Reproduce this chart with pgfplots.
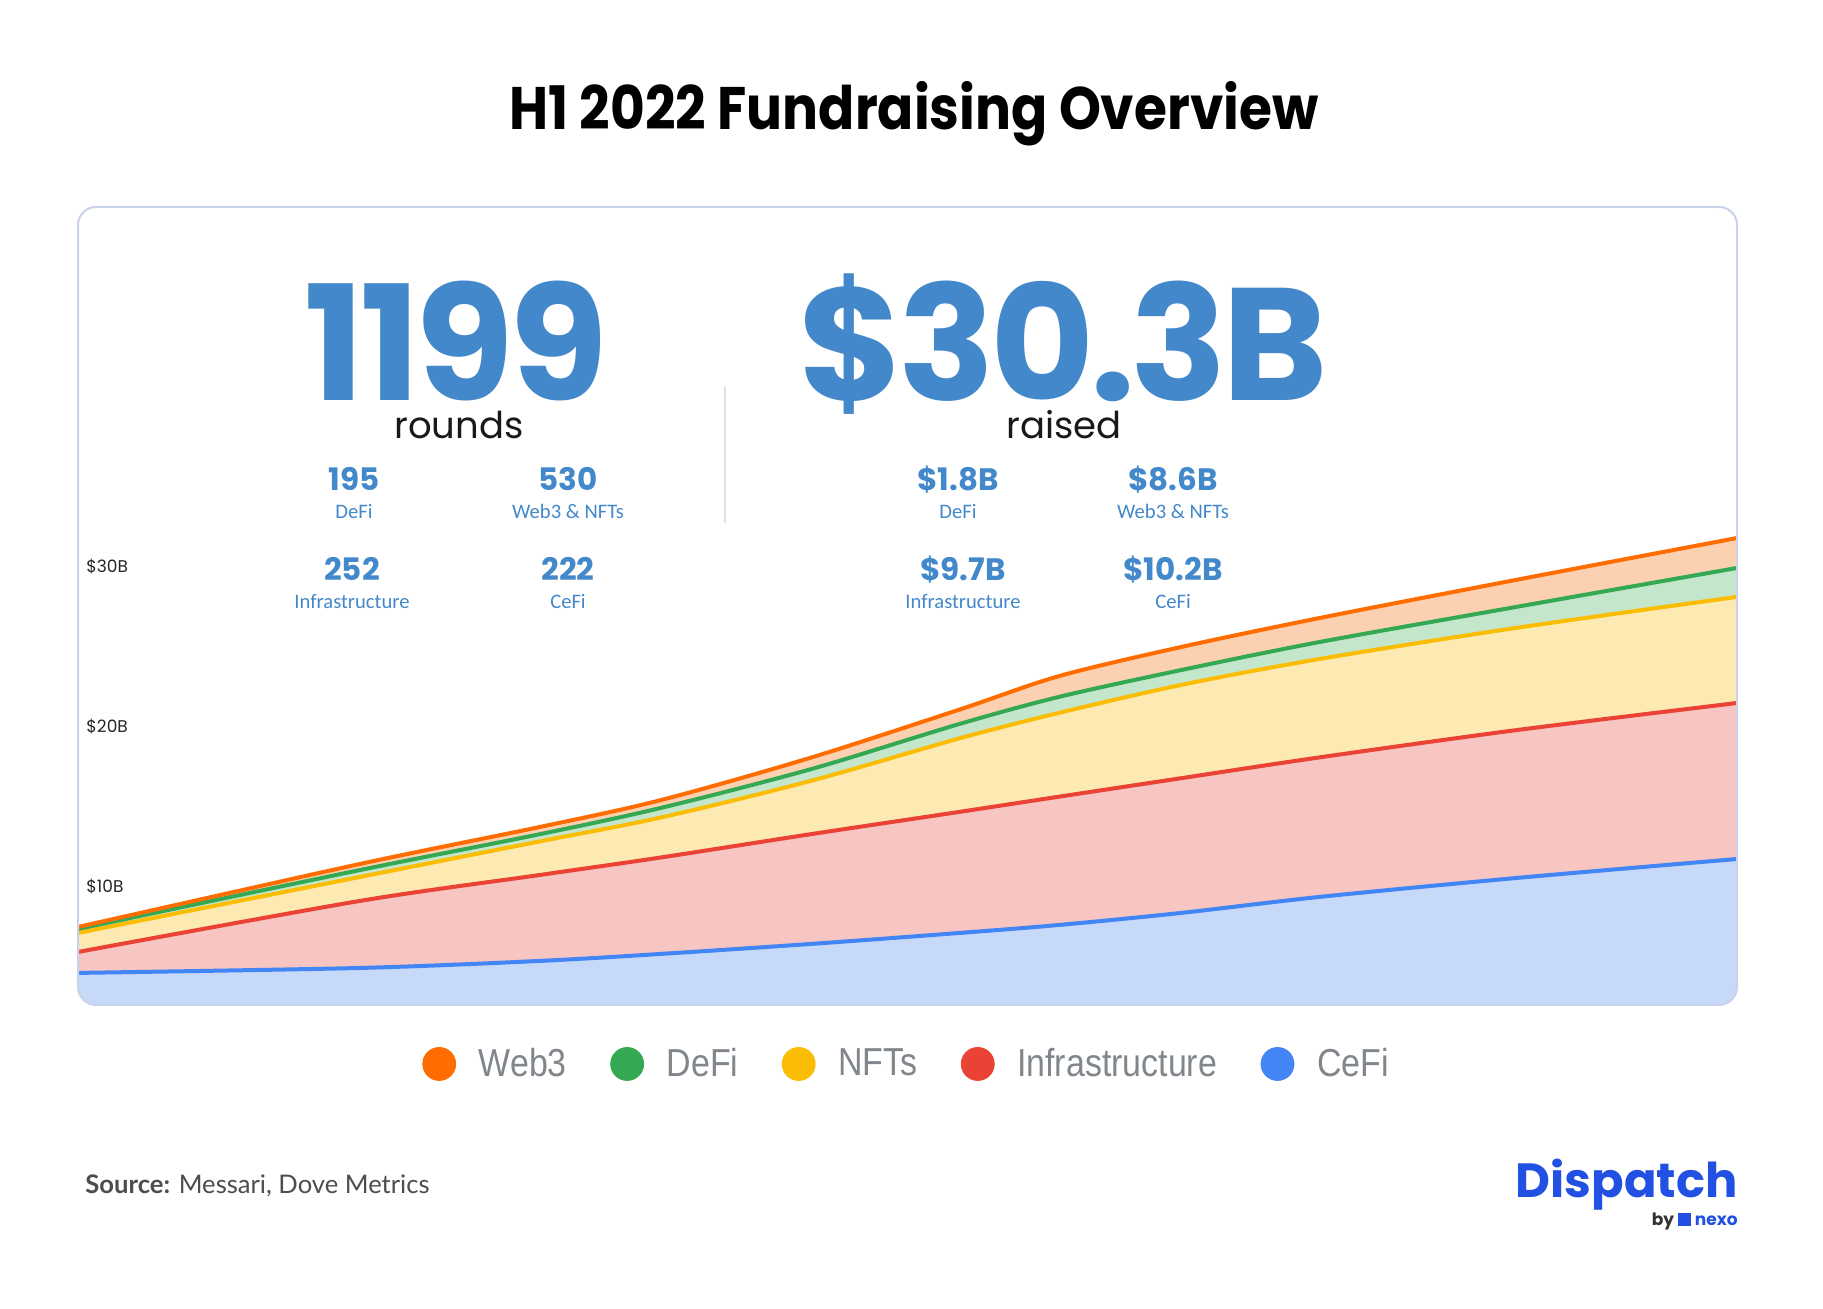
\documentclass[border=0pt]{standalone}
\usepackage{fontspec}
\usepackage{pgfplots}
\usepackage{pgfplotstable}
\pgfplotsset{compat=1.18}
\setmainfont{Poppins}
\newfontfamily\popfont{Poppins}
\newfontfamily\titlefont[FakeStretch=0.89]{Poppins}
\newfontfamily\bigfont[LetterSpace=-3]{Poppins}
\newfontfamily\calfont{Carlito}
\newfontfamily\legfont[FakeStretch=0.87]{Liberation Sans}
\newfontfamily\latofont{Lato}

\definecolor{cWeb}{HTML}{FF6D01}
\definecolor{cDeFi}{HTML}{34A853}
\definecolor{cNFT}{HTML}{FBBC04}
\definecolor{cInf}{HTML}{EA4335}
\definecolor{cCeFi}{HTML}{4285F4}
\definecolor{fWeb}{HTML}{FCD1B2}
\definecolor{fDeFi}{HTML}{C4E6CB}
\definecolor{fNFT}{HTML}{FDEAB2}
\definecolor{fInf}{HTML}{F7C5C2}
\definecolor{fCeFi}{HTML}{C6D9F9}
\definecolor{statblue}{HTML}{4388CA}
\definecolor{boxline}{HTML}{C8D2EA}
\definecolor{leggray}{HTML}{80868B}
\definecolor{srcgray}{HTML}{4D4D4D}
\definecolor{dispblue}{HTML}{2150E2}

% cumulative funding (USD billions), stacked from CeFi upward; m = months into 2022
\pgfplotstableread{
m     cefi  infra nfts  defi  web3
0.00  4.63  5.94  7.13  7.38  7.50
1.02  4.94  9.13  10.63 11.06 11.44
1.67  5.38  10.75 12.85 13.30 13.75
2.11  5.82  11.85 14.35 14.95 15.44
2.65  6.44  13.30 16.63 17.36 18.08
3.19  7.13  14.70 19.30 20.20 21.10
3.55  7.63  15.65 20.89 21.89 23.19
3.99  8.38  16.80 22.63 23.56 25.00
4.49  9.38  18.10 24.25 25.31 26.81
5.20  10.56 19.80 26.19 27.50 29.19
6.00  11.75 21.50 28.13 29.94 31.81
}\cumdata

\newcommand\stat[4]{%
  \node[anchor=base, inner sep=0pt, text=statblue, font=\popfont\bfseries\fontsize{15.5}{16}\selectfont] at (#1,#2) {#3};
  \node[anchor=base, inner sep=0pt, text=statblue, font=\calfont\fontsize{10.3}{11}\selectfont] at (#1,#2-28) {#4};}

\begin{document}
\begin{tikzpicture}[x=0.5pt, y=0.5pt]
\fill[white] (0,0) rectangle (1823,1309);
\path[use as bounding box] (0,0) rectangle (1823,1309);

\node[anchor=base, inner sep=0pt, font=\titlefont\bfseries\fontsize{30}{31}\selectfont] at (914,1179) {H1 2022 Fundraising Overview};

\begin{axis}[
  at={(39pt,551pt)}, anchor=north west,
  scale only axis, width=829.5pt, height=399pt,
  xmin=0, xmax=6, ymin=2.625, ymax=52.5,
  axis line style={draw=none}, major tick length=0pt,
  xtick=\empty,
  ytick={10,20,30}, yticklabels={\$10B,\$20B,\$30B},
  yticklabel style={anchor=west, xshift=4pt, inner sep=0pt, text=black!85,
    font=\popfont\fontsize{8.5}{10}\selectfont},
  legend columns=-1,
  legend style={draw=none, fill=none, at={(0.5,-0.0739)}, anchor=center,
    font=\legfont\fontsize{19.5}{20}\selectfont, text=leggray,
    /tikz/every even column/.append style={column sep=19.75pt}},
]
\addplot[draw=none, fill=fWeb, smooth, forget plot] table[x=m, y=web3]{\cumdata} -- (axis cs:6,2.625) -- (axis cs:0,2.625) -- cycle;
\addplot[draw=none, fill=fDeFi, smooth, forget plot] table[x=m, y=defi]{\cumdata} -- (axis cs:6,2.625) -- (axis cs:0,2.625) -- cycle;
\addplot[draw=none, fill=fNFT, smooth, forget plot] table[x=m, y=nfts]{\cumdata} -- (axis cs:6,2.625) -- (axis cs:0,2.625) -- cycle;
\addplot[draw=none, fill=fInf, smooth, forget plot] table[x=m, y=infra]{\cumdata} -- (axis cs:6,2.625) -- (axis cs:0,2.625) -- cycle;
\addplot[draw=none, fill=fCeFi, smooth, forget plot] table[x=m, y=cefi]{\cumdata} -- (axis cs:6,2.625) -- (axis cs:0,2.625) -- cycle;
\addplot[cCeFi, line width=2pt, smooth, forget plot] table[x=m, y=cefi]{\cumdata};
\addplot[cInf, line width=2pt, smooth, forget plot] table[x=m, y=infra]{\cumdata};
\addplot[cNFT, line width=2pt, smooth, forget plot] table[x=m, y=nfts]{\cumdata};
\addplot[cDeFi, line width=2pt, smooth, forget plot] table[x=m, y=defi]{\cumdata};
\addplot[cWeb, line width=2pt, smooth, forget plot] table[x=m, y=web3]{\cumdata};

\addlegendimage{legend image code/.code={\fill[cWeb] (8.25pt,0pt) circle (8.25pt); \path[draw=none,fill=none] (0,0) -- (26pt,0);}}
\addlegendentry{Web3}
\addlegendimage{legend image code/.code={\fill[cDeFi] (8.25pt,0pt) circle (8.25pt); \path[draw=none,fill=none] (0,0) -- (26pt,0);}}
\addlegendentry{DeFi}
\addlegendimage{legend image code/.code={\fill[cNFT] (8.25pt,0pt) circle (8.25pt); \path[draw=none,fill=none] (0,0) -- (26pt,0);}}
\addlegendentry{NFTs}
\addlegendimage{legend image code/.code={\fill[cInf] (8.25pt,0pt) circle (8.25pt); \path[draw=none,fill=none] (0,0) -- (26pt,0);}}
\addlegendentry{Infrastructure}
\addlegendimage{legend image code/.code={\fill[cCeFi] (8.25pt,0pt) circle (8.25pt); \path[draw=none,fill=none] (0,0) -- (26pt,0);}}
\addlegendentry{CeFi}
\end{axis}

% rounded frame
\fill[white, even odd rule] (66,292) rectangle (1749,1114) [rounded corners=9pt] (78,304) rectangle (1737,1102);
\draw[boxline, line width=1pt, rounded corners=9pt] (78,304) rectangle (1737,1102);

% headline figures
\node[anchor=base, inner sep=0pt, text=statblue, font=\bigfont\bfseries\fontsize{80}{80}\selectfont] at (456,908) {1199};
\node[anchor=base, inner sep=0pt, text=statblue, font=\bigfont\bfseries\fontsize{80}{80}\selectfont] at (1063,908) {\$30.3B};
\node[anchor=base, inner sep=0pt, text=black!90, font=\popfont\fontsize{18.5}{20}\selectfont] at (459,870) {rounds};
\node[anchor=base, inner sep=0pt, text=black!90, font=\popfont\fontsize{18.5}{20}\selectfont] at (1064,870) {raised};
\draw[black!12, line width=1pt] (725,922) -- (725,786);

\stat{354}{818}{195}{DeFi}
\stat{568}{818}{530}{Web3 \& NFTs}
\stat{352}{728}{252}{Infrastructure}
\stat{568}{728}{222}{CeFi}
\stat{958}{818}{\$1.8B}{DeFi}
\stat{1173}{818}{\$8.6B}{Web3 \& NFTs}
\stat{963}{728}{\$9.7B}{Infrastructure}
\stat{1173}{728}{\$10.2B}{CeFi}

% footer
\node[anchor=base west, inner sep=0pt, text=srcgray, font=\latofont\fontsize{12.8}{14}\selectfont] at (85,115) {\textbf{Source:} Messari, Dove Metrics};
\node[anchor=base east, inner sep=0pt, text=dispblue, font=\popfont\bfseries\fontsize{24}{24}\selectfont] at (1738,111) {Dispatch};
\node[anchor=base east, inner sep=0pt, font=\popfont\bfseries\fontsize{8.5}{9}\selectfont] at (1738,83) {\textcolor{black!80}{by}\ \textcolor{dispblue}{\rule{0.8em}{0.75em}}\ \textcolor{dispblue}{nexo}};
\end{tikzpicture}
\end{document}
